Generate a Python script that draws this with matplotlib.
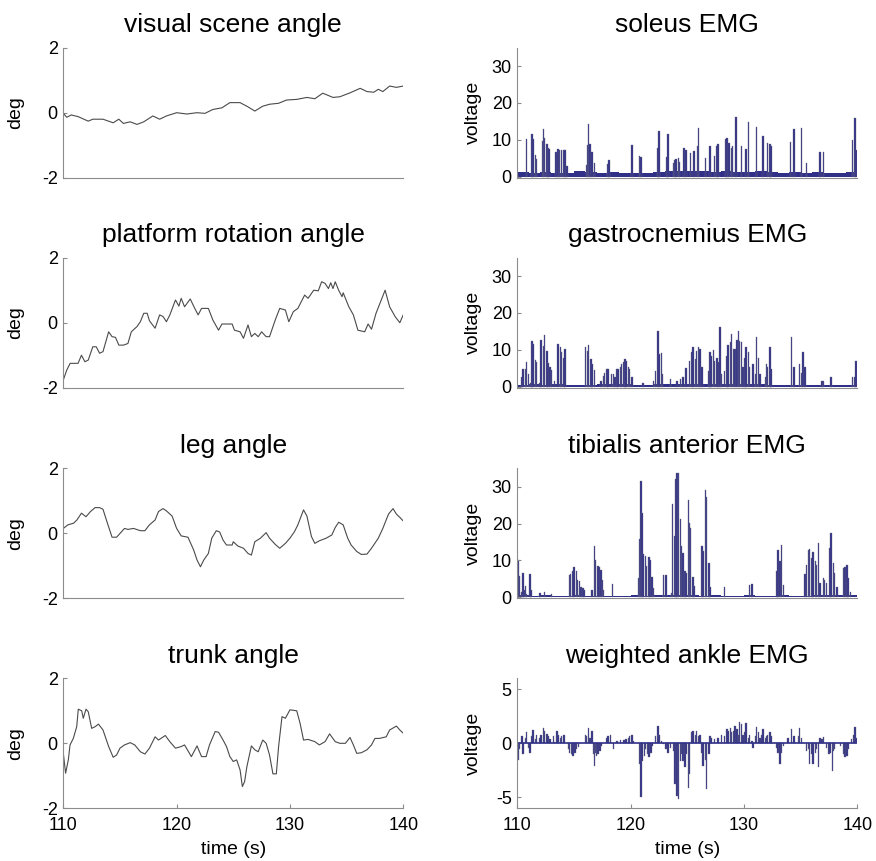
import matplotlib
matplotlib.use("Agg")
import matplotlib.pyplot as plt
import numpy as np

plt.rcParams['font.family'] = ['Liberation Sans', 'DejaVu Sans']
plt.rcParams['axes.unicode_minus'] = False

# ---- angle traces (time s, deg) ----
scene_t = [110.0, 110.3, 110.7, 111.3, 112.2, 112.6, 113.5, 114.4, 114.9, 115.3, 115.9,
           116.5, 117.1, 117.9, 118.5, 119.1, 120.0, 120.9, 121.8, 122.5, 123.2, 124.0,
           124.7, 125.6, 126.3, 126.9, 127.6, 128.2, 129.0, 129.7, 130.6, 131.5, 132.2,
           132.9, 133.8, 134.4, 135.3, 136.2, 136.8, 137.4, 137.8, 138.2, 138.8, 139.4, 140.0]
scene_v = [-0.02, -0.14, -0.07, -0.12, -0.26, -0.2, -0.2, -0.31, -0.2, -0.33, -0.28,
           -0.36, -0.28, -0.1, -0.2, -0.1, 0.0, -0.04, 0.0, -0.02, 0.1, 0.15,
           0.31, 0.31, 0.18, 0.05, 0.2, 0.26, 0.29, 0.39, 0.41, 0.47, 0.43,
           0.6, 0.47, 0.49, 0.61, 0.75, 0.65, 0.63, 0.72, 0.65, 0.82, 0.78, 0.82]

platform_t = [110.0, 110.3, 110.6, 111.3, 111.6, 111.9, 112.2, 112.6, 112.9, 113.2, 113.5,
              114.0, 114.3, 114.6, 114.9, 115.3, 115.7, 116.0, 116.5, 116.8, 117.1, 117.4,
              117.6, 118.1, 118.5, 118.8, 119.1, 119.4, 119.9, 120.2, 120.4, 120.7, 121.2,
              121.6, 121.9, 122.2, 122.8, 123.2, 123.7, 124.0, 124.9, 125.1, 125.6, 125.9,
              126.3, 126.6, 126.9, 127.2, 127.5, 127.9, 128.2, 128.7, 129.1, 129.6, 129.9,
              130.3, 130.7, 131.3, 131.6, 132.1, 132.5, 132.8, 133.1, 133.4, 133.6, 133.8,
              134.0, 134.3, 134.6, 134.7, 135.2, 135.6, 136.0, 136.6, 136.9, 137.2, 137.6,
              138.4, 138.8, 139.3, 139.7, 140.0]
platform_v = [-1.76, -1.46, -1.25, -1.25, -1.0, -1.2, -1.15, -0.74, -0.74, -0.94, -0.89,
              -0.28, -0.43, -0.45, -0.69, -0.69, -0.64, -0.28, -0.12, 0.03, 0.29, 0.29,
              0.06, -0.17, 0.24, 0.19, 0.03, 0.24, 0.7, 0.51, 0.75, 0.49, 0.73,
              0.44, 0.24, 0.44, 0.44, 0.08, -0.23, -0.04, -0.04, -0.23, -0.28, -0.48,
              -0.07, -0.43, -0.33, -0.43, -0.28, -0.43, -0.43, 0.08, 0.44, 0.39, 0.03,
              0.34, 0.44, 0.85, 0.75, 1.0, 0.98, 1.26, 1.21, 1.05, 1.23, 1.05,
              1.26, 1.0, 0.8, 0.92, 0.49, 0.24, -0.23, -0.28, -0.04, -0.2, 0.29,
              1.0, 0.49, 0.18, 0.0, 0.24]

leg_t = [110.0, 110.4, 110.9, 111.2, 111.6, 112.0, 112.4, 112.8, 113.2, 113.5, 113.8,
         114.3, 114.7, 115.4, 115.7, 116.2, 116.8, 117.2, 117.6, 118.1, 118.4, 118.8,
         119.1, 119.6, 120.0, 120.4, 121.0, 121.5, 121.8, 122.1, 122.4, 122.8, 123.1,
         123.5, 123.8, 124.1, 124.4, 124.9, 125.0, 125.4, 125.9, 126.3, 126.6, 126.9,
         127.4, 127.9, 128.2, 128.7, 129.1, 129.6, 130.0, 130.4, 130.7, 131.2, 131.5,
         131.9, 132.2, 132.6, 133.2, 133.7, 134.0, 134.3, 134.7, 135.1, 135.4, 135.9,
         136.3, 136.8, 137.2, 137.8, 138.2, 138.7, 139.1, 139.4, 139.7, 140.0]
leg_v = [0.15, 0.26, 0.31, 0.41, 0.62, 0.51, 0.67, 0.79, 0.79, 0.74, 0.41,
         -0.12, -0.12, 0.15, 0.12, 0.15, 0.08, 0.08, 0.26, 0.41, 0.67, 0.76,
         0.69, 0.53, 0.15, -0.08, -0.12, -0.51, -0.82, -1.03, -0.82, -0.62, -0.15,
         0.08, 0.04, -0.21, -0.36, -0.36, -0.26, -0.39, -0.46, -0.62, -0.67, -0.26,
         -0.15, 0.02, -0.15, -0.34, -0.46, -0.31, -0.15, 0.05, 0.26, 0.72, 0.53,
         -0.1, -0.31, -0.23, -0.15, -0.05, 0.18, 0.34, 0.26, -0.15, -0.36, -0.56,
         -0.65, -0.64, -0.46, -0.15, 0.15, 0.59, 0.76, 0.59, 0.49, 0.38]

trunk_t = [110.0, 110.2, 110.44, 110.59, 110.88, 111.18, 111.32, 111.62, 111.76, 112.0,
           112.2, 112.5, 112.8, 113.1, 113.5, 114.0, 114.4, 114.7, 115.0, 115.4, 115.9,
           116.3, 116.8, 117.2, 117.6, 118.1, 118.4, 119.0, 119.4, 119.9, 120.4, 120.7,
           121.3, 121.8, 122.2, 122.6, 122.9, 123.4, 123.7, 124.1, 124.4, 124.7, 125.0,
           125.3, 125.6, 125.8, 126.0, 126.2, 126.6, 126.9, 127.2, 127.6, 127.9, 128.2,
           128.5, 128.8, 129.0, 129.3, 129.6, 130.0, 130.6, 130.9, 131.2, 131.6, 132.2,
           132.6, 133.1, 133.5, 134.0, 134.4, 134.9, 135.3, 135.6, 135.9, 136.3, 136.8,
           137.2, 137.5, 137.9, 138.5, 138.8, 139.4, 139.7, 140.0]
trunk_v = [-0.31, -0.92, -0.51, -0.05, 0.15, 0.51, 1.05, 1.0, 0.77, 1.05,
           0.97, 0.46, 0.51, 0.59, 0.41, -0.1, -0.43, -0.36, -0.15, -0.05, 0.02,
           -0.05, -0.26, -0.33, -0.15, 0.2, 0.1, 0.24, 0.05, -0.15, -0.1, -0.05,
           -0.41, -0.08, -0.41, -0.41, -0.05, 0.36, 0.34, 0.1, -0.1, -0.41, -0.56,
           -0.51, -0.82, -1.33, -1.18, -0.72, -0.08, -0.2, -0.26, 0.1, 0.0, -0.36,
           -0.94, -0.94, -0.1, 0.82, 0.77, 1.03, 1.0, 0.61, 0.1, 0.12, 0.05,
           -0.05, 0.05, 0.29, 0.05, 0.0, 0.0, 0.18, -0.05, -0.31, -0.29, -0.2,
           -0.05, 0.15, 0.15, 0.2, 0.41, 0.53, 0.41, 0.31]

# ---- EMG bursts (time s, voltage) ----
base_sec = list(range(110, 140))
soleus_base = [1.2, 1.0, 1.3, 1.0, 1.0, 1.5, 1.3, 1.0, 1.2, 0.9, 1.0, 1.0, 1.2, 1.4, 1.5,
               1.6, 1.5, 1.2, 1.4, 1.3, 1.2, 1.5, 1.3, 1.0, 1.2, 1.1, 1.3, 1.0, 1.0, 1.2]
soleus_t = [110.8, 111.3, 111.4, 111.6, 111.7, 112.2, 112.3, 112.4, 112.6, 112.7, 112.8,
            113.4, 113.6, 113.7, 113.9, 114.1, 114.2, 114.4, 116.1, 116.2, 116.3, 116.4,
            116.6, 116.8, 118.0, 118.1, 120.1, 120.8, 120.9, 122.4, 122.5, 123.2, 123.3,
            123.8, 123.9, 124.0, 124.2, 124.3, 124.7, 124.9, 125.3, 125.6, 125.9, 126.0,
            126.6, 127.0, 127.4, 127.6, 127.7, 128.4, 128.5, 128.7, 128.9, 129.0, 129.3,
            129.8, 130.2, 130.4, 131.1, 131.7, 132.1, 132.3, 132.4, 134.1, 134.4, 135.1,
            135.5, 136.7, 137.0, 139.6, 139.8, 139.9]
soleus_v = [10.2, 11.6, 10.2, 5.9, 4.7, 9.8, 12.9, 10.4, 8.9, 7.7, 7.4,
            6.8, 7.4, 7.3, 7.3, 7.1, 7.1, 2.9, 3.2, 8.6, 14.3, 8.9,
            6.8, 3.6, 3.4, 4.5, 8.6, 5.6, 5.4, 7.9, 12.4, 5.4, 11.6,
            3.6, 4.5, 4.7, 5.0, 4.1, 7.7, 7.1, 6.3, 7.0, 8.4, 13.1,
            5.0, 8.3, 5.5, 8.3, 8.9, 10.2, 10.4, 9.1, 7.9, 8.2, 16.1,
            8.2, 7.4, 14.7, 13.5, 10.9, 9.2, 8.8, 8.2, 9.5, 12.9, 13.1,
            3.8, 6.8, 6.6, 10.0, 15.9, 7.3]

gastro_base = [0.5, 0.6, 0.5, 0.6, 0.4, 0.4, 0.5, 0.6, 0.7, 0.6, 0.4, 0.5, 0.6, 0.7, 0.8,
               0.7, 0.6, 0.8, 0.7, 0.6, 0.7, 0.6, 0.5, 0.4, 0.5, 0.4, 0.4, 0.4, 0.4, 0.4]
gastro_t = [110.4, 110.5, 110.7, 110.8, 111.0, 111.2, 111.3, 111.4, 111.6, 111.7,
            112.0, 112.1, 112.3, 112.4, 112.6, 112.7, 112.9, 113.0, 113.3,
            113.6, 113.8, 113.9, 114.1, 114.2, 116.0, 116.2, 116.3, 116.5, 116.6, 116.8,
            117.4, 117.6, 117.7, 117.9, 118.0, 118.3, 118.5, 118.6, 118.8, 118.9,
            119.1, 119.2, 119.4, 119.5, 119.6, 119.8, 119.9, 120.1, 121.1,
            122.0, 122.2, 122.4, 122.5, 122.7, 122.8, 123.5, 124.1, 124.4, 124.6, 124.9,
            125.2, 125.4, 125.5, 125.7, 125.8, 126.0, 126.1, 126.3,
            126.9, 127.0, 127.1, 127.3, 127.4, 127.6, 127.7, 127.9, 128.0,
            128.3, 128.5, 128.6, 128.8, 128.9, 129.1, 129.2, 129.4, 129.5, 129.6, 129.8,
            129.9, 130.1, 130.2, 130.4, 130.5, 130.8, 131.0, 131.1, 131.3, 131.4,
            131.9, 132.0, 132.1, 132.3, 132.4, 134.2, 134.4, 134.9, 135.1, 135.2, 135.4,
            136.9, 137.0, 137.7, 139.6, 139.8, 139.9]
gastro_v = [2.5, 4.7, 4.7, 6.6, 3.4, 1.1, 12.3, 11.6, 7.2, 6.6,
            1.1, 12.7, 11.1, 13.9, 9.8, 6.3, 5.2, 4.5, 1.5,
            11.6, 10.7, 9.3, 7.9, 10.2, 10.7, 9.8, 11.4, 7.5, 6.1, 4.5,
            1.5, 2.9, 3.8, 4.7, 4.7, 3.4, 3.4, 2.5, 4.7, 4.7,
            5.4, 6.1, 6.6, 7.5, 7.0, 5.2, 4.7, 2.5, 1.1,
            1.5, 4.3, 15.0, 8.8, 9.0, 3.4, 2.0, 1.5, 2.0, 2.5, 5.0,
            7.0, 9.3, 10.7, 7.5, 9.6, 10.7, 10.2, 5.2,
            4.3, 9.3, 8.4, 9.9, 7.0, 7.9, 6.6, 16.1, 3.4,
            4.3, 8.4, 11.4, 12.0, 14.3, 10.2, 10.2, 12.7, 15.0, 12.3, 12.0,
            5.2, 7.9, 10.7, 9.3, 5.2, 6.1, 3.4, 13.4, 7.9, 3.4,
            2.5, 6.1, 5.2, 10.7, 4.7, 13.4, 5.2, 6.1, 3.8, 9.3, 5.2,
            1.5, 1.5, 2.5, 2.5, 2.5, 7.0]

tib_base = [0.5, 0.4, 0.5, 0.4, 0.4, 0.5, 0.4, 0.4, 0.4, 0.4, 0.5, 0.4, 0.5, 0.6, 0.6,
            0.5, 0.4, 0.5, 0.4, 0.4, 0.5, 0.4, 0.4, 0.5, 0.4, 0.4, 0.5, 0.5, 0.5, 0.5]
tib_t = [110.1, 110.2, 110.4, 110.5, 110.6, 110.7, 110.8, 111.1, 111.2, 112.0, 112.4, 113.0,
         114.6, 114.7, 114.9, 115.0, 115.2, 115.3, 115.5, 115.6, 115.8, 115.9,
         116.6, 116.8, 116.9, 117.1, 117.2, 117.4, 117.5, 117.6, 118.4,
         120.7, 120.8, 120.9, 121.0, 121.1, 121.3, 121.4, 121.6, 121.7, 121.9, 122.0,
         122.9, 123.1, 123.6, 123.7, 123.9, 124.0, 124.1, 124.2, 124.4, 124.5, 124.6,
         124.8, 124.9, 125.1, 125.2, 125.3, 125.5, 125.6, 126.3, 126.4, 126.6, 126.7,
         126.9, 127.0, 128.3, 130.5, 130.7, 132.9, 133.0, 133.2, 133.3, 133.5,
         135.4, 135.5, 135.7, 135.8, 136.0, 136.1, 136.3, 136.4, 136.6, 136.7,
         137.0, 137.1, 137.3, 137.6, 137.7, 137.9, 138.0, 138.2,
         138.8, 138.9, 139.1, 139.2, 139.4]
tib_v = [10.0, 5.8, 1.5, 6.7, 2.0, 3.1, 1.0, 6.4, 2.0, 1.1, 1.5, 0.9,
         6.1, 6.4, 7.0, 8.2, 7.0, 4.7, 4.3, 2.9, 2.5, 2.0,
         2.0, 14.0, 10.2, 8.5, 8.2, 7.5, 4.7, 2.0, 3.6,
         5.2, 15.8, 31.5, 22.9, 11.8, 11.1, 8.4, 10.9, 10.2, 5.6, 2.5,
         6.1, 6.1, 1.1, 25.2, 16.5, 32.2, 33.8, 33.8, 21.1, 13.8, 12.0,
         7.0, 6.5, 26.4, 20.2, 18.8, 5.6, 3.1, 13.8, 12.5, 29.0, 27.3,
         9.3, 2.9, 2.9, 3.4, 3.6, 7.0, 12.7, 9.7, 14.3, 3.4,
         6.4, 8.8, 12.9, 13.1, 10.6, 12.2, 9.7, 8.8, 14.7, 3.8,
         5.2, 4.7, 3.8, 13.4, 17.5, 9.3, 6.5, 2.9,
         7.9, 8.2, 8.8, 5.2, 1.5]

ankle_t = [110.1, 110.2, 110.4, 110.5, 110.7, 110.8, 111.0, 111.1, 111.3, 111.4, 111.6, 111.7,
           112.0, 112.1, 112.3, 112.4, 112.6, 112.7, 112.9, 113.2, 113.3, 113.5, 113.6, 113.8,
           113.9, 114.1, 114.5, 114.6, 114.8, 114.9, 115.1, 115.2, 115.4, 116.0, 116.1, 116.3,
           116.4, 116.6, 116.7, 116.8, 116.9, 117.0, 117.1, 117.3, 117.4, 117.9, 118.0, 118.2,
           118.3, 118.5, 118.8, 119.1, 119.4, 119.6, 119.8, 119.9, 120.1, 120.2, 120.8, 120.9,
           121.0, 121.2, 121.3, 121.5, 121.6, 121.8, 121.9, 122.2, 122.4, 122.5, 122.7, 122.9,
           123.1, 123.3, 123.5, 123.8, 123.9, 124.1, 124.2, 124.4, 124.5, 124.6, 124.8, 124.9,
           125.1, 125.2, 125.4, 125.5, 125.7, 125.8, 126.0, 126.1, 126.3, 126.4, 126.6, 126.7,
           126.9, 127.0, 127.1, 127.4, 127.7, 128.0, 128.3, 128.5, 128.6, 128.8, 128.9, 129.1,
           129.2, 129.4, 129.5, 129.6, 129.8, 129.9, 130.1, 130.2, 130.4, 130.5, 130.7, 130.8,
           131.0, 131.1, 131.3, 131.4, 131.6, 131.7, 131.9, 132.0, 132.1, 132.3, 132.4, 132.6,
           132.9, 133.0, 133.2, 133.3, 133.5, 133.9, 134.2, 134.4, 134.5, 134.8, 134.9, 135.1,
           135.2, 135.5, 135.7, 135.8, 136.0, 136.1, 136.3, 136.4, 136.6, 136.7, 136.9, 137.0,
           137.3, 137.5, 137.6, 137.8, 137.9, 138.0, 138.5, 138.8, 138.9, 139.1, 139.2, 139.5,
           139.7, 139.8, 139.9]
ankle_v = [-1.5, -0.55, 0.67, -1.0, 0.5, 1.0, -0.4, -0.85, 0.67, 1.2, 0.4, 0.8,
           0.5, 0.8, 1.4, 1.1, 0.9, 0.67, 0.37, 0.67, 0.15, 1.1, 0.8, 0.45,
           0.67, 0.8, -0.55, -0.85, -1.0, -1.15, -0.85, -0.55, -0.35, 0.8, 0.67, 1.4,
           0.5, 1.1, -1.0, -2.1, -0.85, -1.15, -1.0, -0.7, -0.25, 0.5, 0.67, 0.8,
           0.05, -0.55, 0.2, 0.27, 0.27, 0.37, 0.5, 0.67, 0.8, 0.2, -1.9, -5.0,
           -1.6, -1.15, -0.55, -1.0, -1.25, -0.85, -0.25, 0.67, 1.6, 0.8, 0.2, -0.1,
           -0.55, -0.85, -0.4, -0.7, -3.8, -4.85, -5.15, -1.6, -1.0, -1.6, -2.2, -1.0,
           -4.1, -2.85, 1.0, 1.1, 0.8, 1.1, 0.67, 0.8, -0.85, -2.1, -1.5, -4.2,
           -1.0, 0.67, 0.5, 0.37, 0.5, 0.8, 0.67, 1.3, 1.1, 1.45, 1.0, 1.1,
           1.6, 1.3, 0.8, 1.95, 1.75, 0.8, 1.0, 1.9, 0.5, 0.8, 0.2, -0.4,
           0.67, 1.5, 1.0, 0.5, 0.8, 1.3, 0.5, 0.67, 0.8, 1.0, 0.67, 0.05,
           -0.4, -0.85, -1.9, -0.85, -0.25, 0.5, 1.3, 0.67, 0.05, 0.67, 1.45, 0.5,
           0.05, -0.7, -0.55, -1.9, -1.0, -1.9, -0.85, -0.55, -2.2, 0.5, 0.37, 0.6,
           -0.4, -1.0, -0.85, -2.55, -0.7, -0.55, -0.25, -1.0, -1.3, -1.15, -0.55, 0.37,
           0.8, 1.5, 0.5]

angle_panels = [
    ("visual scene angle", scene_t, scene_v),
    ("platform rotation angle", platform_t, platform_v),
    ("leg angle", leg_t, leg_v),
    ("trunk angle", trunk_t, trunk_v),
]
emg_panels = [
    ("soleus EMG", soleus_t, soleus_v, soleus_base, (-0.3, 35), [0, 10, 20, 30]),
    ("gastrocnemius EMG", gastro_t, gastro_v, gastro_base, (-0.3, 35), [0, 10, 20, 30]),
    ("tibialis anterior EMG", tib_t, tib_v, tib_base, (-0.3, 35), [0, 10, 20, 30]),
    ("weighted ankle EMG", ankle_t, ankle_v, None, (-6, 6), [-5, 0, 5]),
]

fig = plt.figure(figsize=(8.76, 8.61), dpi=100, facecolor='white')

row_bottoms = [0.7936, 0.5497, 0.3051, 0.0612]
height = 0.151
width = 0.388
left_x = 0.0723
right_x = 0.5906
spine_col = '#8c8c8c'
navy = '#303088'


def style_axis(ax, bottom_row):
    for s in ('top', 'right'):
        ax.spines[s].set_visible(False)
    for s in ('left', 'bottom'):
        ax.spines[s].set_color(spine_col)
        ax.spines[s].set_linewidth(0.8)
    ax.tick_params(direction='in', length=3, width=0.8, color=spine_col,
                   labelsize=13, labelcolor='black')
    ax.tick_params(axis='y', pad=4)
    ax.tick_params(axis='x', pad=6)
    ax.set_xlim(110, 140)
    if bottom_row:
        ax.set_xticks([110, 120, 130, 140])
        ax.set_xlabel('time (s)', fontsize=14, labelpad=5)
    else:
        ax.set_xticks([])


for i, (title, t, v) in enumerate(angle_panels):
    ax = fig.add_axes([left_x, row_bottoms[i], width, height])
    ax.plot(t, v, color='#4a4a4a', linewidth=0.8)
    ax.set_ylim(-2, 2)
    ax.set_yticks([-2, 0, 2])
    style_axis(ax, i == 3)
    ax.set_title(title, fontsize=19, pad=11)
    ax.set_ylabel('deg', fontsize=14)
    ax.yaxis.set_label_coords(-0.115, 0.5)

for i, (title, t, v, base, ylim, yticks) in enumerate(emg_panels):
    ax = fig.add_axes([right_x, row_bottoms[i], width, height])
    if base is not None:
        edges = base_sec + [140]
        ax.fill_between(edges, base + [base[-1]], step='post', color=navy,
                        linewidth=0)
    else:
        ax.plot([110, 140], [0, 0], color=navy, linewidth=1.2)
    ax.bar(t, v, width=0.13, color=navy, edgecolor='#6a6a80', linewidth=0.25)
    ax.set_ylim(*ylim)
    ax.set_yticks(yticks)
    style_axis(ax, i == 3)
    ax.set_title(title, fontsize=19, pad=11)
    ax.set_ylabel('voltage', fontsize=14)
    ax.yaxis.set_label_coords(-0.105, 0.5)

fig.savefig('out.png', dpi=100, facecolor='white')
